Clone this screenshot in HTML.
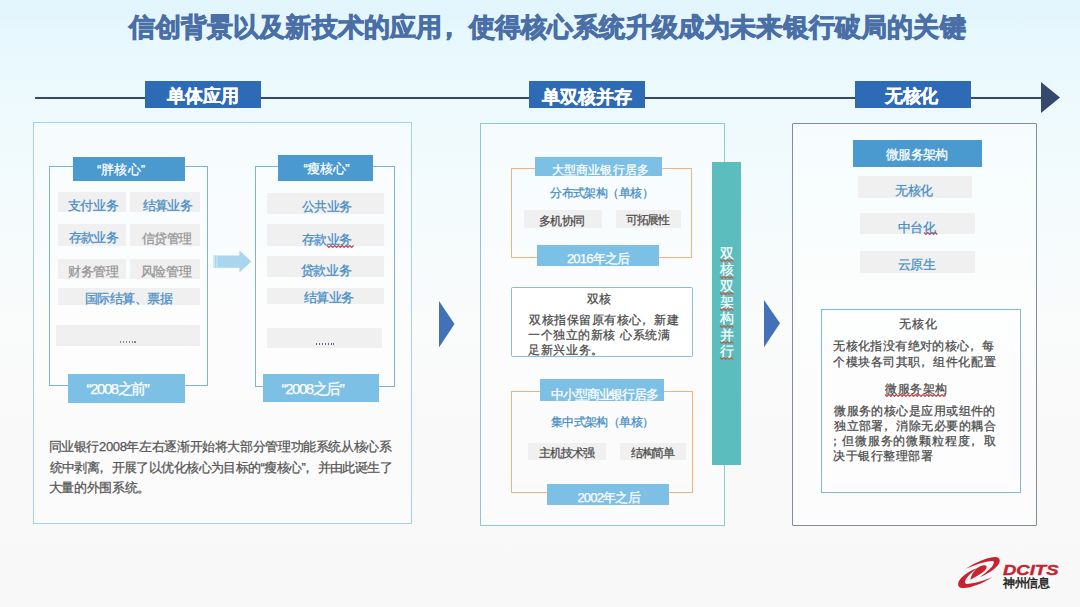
<!DOCTYPE html>
<html><head><meta charset="utf-8">
<style>
*{margin:0;padding:0;box-sizing:border-box}
html,body{width:1080px;height:607px;overflow:hidden}
body{font-family:"Liberation Sans",sans-serif;position:relative;
background:linear-gradient(180deg,#e2f4fc 0px,#e5f7fd 25px,#e9f9fe 60px,#edf9fd 100px,#f0fafd 140px,#f3fbfd 200px,#f7fbfc 260px,#fafbfb 320px,#f9f9f9 420px,#f8f8f8 607px)}
.a{position:absolute}
.t{position:absolute;white-space:nowrap;line-height:1}
.lab{background:#2e6bb7}
.gb{background:#f1f0f0}
.hd{background:#4a99cf}
.lb{background:#7dc0e6}
</style></head><body>

<!-- timeline -->
<div class="a" style="left:35px;top:96.6px;width:1008px;height:2.8px;background:#35496d"></div>
<svg class="a" style="left:1040px;top:81px" width="22" height="34"><polygon points="1,1 20,16.6 1,32" fill="#35496d"/></svg>
<div class="a lab" style="left:145px;top:81px;width:116px;height:26.5px"></div>
<div class="a lab" style="left:529px;top:81px;width:116px;height:26.5px"></div>
<div class="a lab" style="left:854.6px;top:81px;width:116px;height:26.5px"></div>

<!-- panel 1 -->
<div class="a" style="left:32.5px;top:122.4px;width:379px;height:401.4px;border:1.7px solid #a6cfe9;background:rgba(255,255,255,0.4)"></div>
<div class="a" style="left:49px;top:165.8px;width:158.5px;height:220.5px;border:1.4px solid #7fb0d8;background:rgba(255,255,255,0.25)"></div>
<div class="a hd" style="left:72.5px;top:157px;width:112.3px;height:24.2px"></div>
<div class="a gb" style="left:58px;top:192px;width:68px;height:20.3px"></div>
<div class="a gb" style="left:130px;top:192px;width:70px;height:20.3px"></div>
<div class="a gb" style="left:58px;top:223.8px;width:68px;height:22px"></div>
<div class="a gb" style="left:130px;top:223.8px;width:70px;height:22px"></div>
<div class="a gb" style="left:58px;top:258.5px;width:68px;height:20.3px"></div>
<div class="a gb" style="left:130px;top:258.5px;width:70px;height:20.3px"></div>
<div class="a gb" style="left:58px;top:288px;width:142px;height:16.6px"></div>
<div class="a gb" style="left:56.2px;top:325px;width:143.6px;height:20.5px"></div>
<div class="a" style="left:120px;top:341px;width:17px;height:2px;background:repeating-linear-gradient(90deg,#888 0 1.3px,transparent 1.3px 2.9px)"></div>
<div class="a lb" style="left:68px;top:374.1px;width:116.8px;height:28.5px"></div>

<!-- arrow -->
<svg class="a" style="left:213px;top:250px" width="39" height="24">
<polygon points="0,5.6 26.4,5.6 26.4,0.4 38.3,11.5 26.4,22.6 26.4,17.8 0,17.8" fill="#a9d5ee"/>
<rect x="0" y="5.6" width="2" height="12.2" fill="#cde8f6"/><rect x="3.2" y="5.6" width="1.6" height="12.2" fill="#c2e3f4"/></svg>

<div class="a" style="left:254.5px;top:165.8px;width:140.5px;height:220.8px;border:1.4px solid #7fb0d8;background:rgba(255,255,255,0.25)"></div>
<div class="a hd" style="left:278.4px;top:155px;width:94.5px;height:26.2px"></div>
<div class="a gb" style="left:267px;top:192.6px;width:116.5px;height:21.7px"></div>
<div class="a gb" style="left:267px;top:224.2px;width:116.5px;height:21.9px"></div>
<div class="a gb" style="left:267px;top:256.3px;width:116.5px;height:21.2px"></div>
<div class="a gb" style="left:267px;top:288.4px;width:116.5px;height:15.4px"></div>
<div class="a gb" style="left:267.4px;top:327.8px;width:115px;height:20px"></div>
<div class="a" style="left:316px;top:343.3px;width:17.5px;height:2px;background:repeating-linear-gradient(90deg,#5a6a80 0 1.4px,transparent 1.4px 2.9px)"></div>
<div class="a lb" style="left:263px;top:374.1px;width:116.1px;height:28.1px"></div>

<!-- chevrons -->
<svg class="a" style="left:439px;top:301px" width="16" height="47"><polygon points="0,0 15.5,23 0,46.5" fill="#4271ba"/></svg>
<svg class="a" style="left:764px;top:300px" width="17" height="48"><polygon points="0,0 16,23.2 0,47.2" fill="#4271ba"/></svg>

<!-- panel 2 -->
<div class="a" style="left:479.6px;top:123px;width:245.3px;height:403px;border:1.5px solid #90cacc;background:rgba(255,255,255,0.4)"></div>
<div class="a" style="left:510.7px;top:168px;width:181.8px;height:89.6px;border:1.3px solid #f2b27e"></div>
<div class="a lb" style="left:535.1px;top:156.9px;width:126.7px;height:19.6px"></div>
<div class="a gb" style="left:523.8px;top:210.2px;width:78px;height:17.4px"></div>
<div class="a gb" style="left:615.8px;top:210.2px;width:65.5px;height:17.4px"></div>
<div class="a lb" style="left:536.6px;top:244.5px;width:122px;height:21.3px"></div>

<div class="a" style="left:510.5px;top:286.7px;width:182px;height:70.7px;border:1.3px solid #86bde0;border-radius:1.5px;background:#fff"></div>

<div class="a" style="left:511.3px;top:391.1px;width:181.3px;height:102.2px;border:1.3px solid #f2b27e"></div>
<div class="a lb" style="left:540.4px;top:378.8px;width:123.8px;height:21.9px"></div>
<div class="a gb" style="left:527.8px;top:442.7px;width:78.4px;height:17.5px"></div>
<div class="a gb" style="left:620.4px;top:442.7px;width:65.8px;height:17.5px"></div>
<div class="a lb" style="left:547.1px;top:484.1px;width:122px;height:21.3px"></div>

<div class="a" style="left:712px;top:162.4px;width:29.4px;height:302.5px;background:#5cbdbe"></div>

<!-- panel 3 -->
<div class="a" style="left:792.2px;top:123.4px;width:244.6px;height:402.9px;border:1.6px solid #858b9f;border-radius:1px;background:rgba(255,255,255,0.45)"></div>
<div class="a hd" style="left:852.8px;top:140.2px;width:129.4px;height:26.4px"></div>
<div class="a gb" style="left:857.6px;top:176px;width:114.7px;height:22.1px"></div>
<div class="a gb" style="left:860px;top:213.1px;width:114.8px;height:21.2px"></div>
<div class="a gb" style="left:860px;top:250.7px;width:115px;height:22.2px"></div>
<div class="a" style="left:821.1px;top:309.2px;width:199.8px;height:183.5px;border:1.3px solid #80b8dd;background:rgba(255,255,255,0.35)"></div>

<!-- logo -->
<svg class="a" style="left:955px;top:553px" width="48" height="40" viewBox="0 0 728 607">
<g fill="#c8222e">
<path d="M160,240 C300,150 470,68 600,60 C695,55 695,135 650,185 C600,250 500,315 375,368 C455,305 540,240 575,185 C600,140 595,118 550,122 C430,135 300,185 160,240 Z"/>
<path d="M570,365 C420,458 250,535 115,532 C25,528 30,440 100,370 C165,305 260,250 350,222 C270,275 205,335 170,390 C135,445 150,478 215,468 C335,452 455,412 570,365 Z"/>
<path d="M235,405 C245,320 315,230 400,195 C455,175 500,195 472,238 C440,285 390,315 340,345 C292,370 262,392 235,405 Z"/>
</g></svg>
<svg class="a" style="left:1000px;top:560px" width="70" height="32">
<text x="3" y="15" font-family="Liberation Sans" font-weight="bold" font-style="italic" font-size="15.4" fill="#c8222e" stroke="#c8222e" stroke-width="0.4" textLength="55.5" lengthAdjust="spacingAndGlyphs">DCITS</text>
</svg>
<div class="t" style="left:1003px;top:577px;font-size:12px;color:#222;letter-spacing:-0.3px;-webkit-text-stroke:0.45px #222">神州信息</div>
<div class="t" style="left:719.6px;top:246.0px;color:#fff;font-size:14px;-webkit-text-stroke:0.2px #fff">双</div><div class="t" style="left:719.6px;top:262.3px;color:#fff;font-size:14px;-webkit-text-stroke:0.2px #fff">核</div><div class="t" style="left:719.6px;top:278.6px;color:#fff;font-size:14px;-webkit-text-stroke:0.2px #fff">双</div><div class="t" style="left:719.6px;top:294.9px;color:#fff;font-size:14px;-webkit-text-stroke:0.2px #fff">架</div><div class="t" style="left:719.6px;top:311.2px;color:#fff;font-size:14px;-webkit-text-stroke:0.2px #fff">构</div><div class="t" style="left:719.6px;top:327.5px;color:#fff;font-size:14px;-webkit-text-stroke:0.2px #fff">并</div><div class="t" style="left:719.6px;top:343.8px;color:#fff;font-size:14px;-webkit-text-stroke:0.2px #fff">行</div><svg class="a" style="left:719px;top:259.40000000000003px" width="18" height="3"><polyline points="1.0,0.5 2.9,2.5 4.8,0.5 6.7,2.5 8.6,0.5 10.5,2.5 12.4,0.5 14.3,2.5" fill="none" stroke="#c0604a" stroke-width="1.1"/></svg><svg class="a" style="left:719px;top:275.70000000000005px" width="18" height="3"><polyline points="1.0,0.5 2.9,2.5 4.8,0.5 6.7,2.5 8.6,0.5 10.5,2.5 12.4,0.5 14.3,2.5" fill="none" stroke="#c0604a" stroke-width="1.1"/></svg><svg class="a" style="left:719px;top:292.00000000000006px" width="18" height="3"><polyline points="1.0,0.5 2.9,2.5 4.8,0.5 6.7,2.5 8.6,0.5 10.5,2.5 12.4,0.5 14.3,2.5" fill="none" stroke="#c0604a" stroke-width="1.1"/></svg><svg class="a" style="left:719px;top:308.30000000000007px" width="18" height="3"><polyline points="1.0,0.5 2.9,2.5 4.8,0.5 6.7,2.5 8.6,0.5 10.5,2.5 12.4,0.5 14.3,2.5" fill="none" stroke="#c0604a" stroke-width="1.1"/></svg><svg class="a" style="left:719px;top:324.6px" width="18" height="3"><polyline points="1.0,0.5 2.9,2.5 4.8,0.5 6.7,2.5 8.6,0.5 10.5,2.5 12.4,0.5 14.3,2.5" fill="none" stroke="#c0604a" stroke-width="1.1"/></svg><svg class="a" style="left:719px;top:340.90000000000003px" width="18" height="3"><polyline points="1.0,0.5 2.9,2.5 4.8,0.5 6.7,2.5 8.6,0.5 10.5,2.5 12.4,0.5 14.3,2.5" fill="none" stroke="#c0604a" stroke-width="1.1"/></svg><svg class="a" style="left:719px;top:357.20000000000005px" width="18" height="3"><polyline points="1.0,0.5 2.9,2.5 4.8,0.5 6.7,2.5 8.6,0.5 10.5,2.5 12.4,0.5 14.3,2.5" fill="none" stroke="#c0604a" stroke-width="1.1"/></svg><svg class="a" style="left:325.6px;top:244.79999999999998px" width="29.799999999999955" height="3"><polyline points="1.0,0.5 2.9,2.5 4.8,0.5 6.7,2.5 8.6,0.5 10.5,2.5 12.4,0.5 14.3,2.5 16.2,0.5 18.1,2.5 20.0,0.5 21.9,2.5 23.8,0.5 25.7,2.5 27.6,0.5" fill="none" stroke="#cc3f48" stroke-width="1.1"/></svg><svg class="a" style="left:923px;top:232.4px" width="17.399999999999977" height="3"><polyline points="1.0,0.5 2.9,2.5 4.8,0.5 6.7,2.5 8.6,0.5 10.5,2.5 12.4,0.5 14.3,2.5" fill="none" stroke="#cc3f48" stroke-width="1.1"/></svg><svg class="a" style="left:884.3px;top:393.6px" width="64.10000000000002" height="3"><polyline points="1.0,0.5 2.9,2.5 4.8,0.5 6.7,2.5 8.6,0.5 10.5,2.5 12.4,0.5 14.3,2.5 16.2,0.5 18.1,2.5 20.0,0.5 21.9,2.5 23.8,0.5 25.7,2.5 27.6,0.5 29.5,2.5 31.4,0.5 33.3,2.5 35.2,0.5 37.1,2.5 39.0,0.5 40.9,2.5 42.8,0.5 44.7,2.5 46.6,0.5 48.5,2.5 50.4,0.5 52.3,2.5 54.2,0.5 56.1,2.5 58.0,0.5 59.9,2.5 61.8,0.5" fill="none" stroke="#cc3f48" stroke-width="1.1"/></svg><div class="t" style="left:128.5px;top:13.75px;font-size:26px;font-weight:bold;letter-spacing:0.161px;color:#4a6ea6;-webkit-text-stroke:0.9px #4a6ea6;">信创背景以及新技术的应用<span style="position:relative;left:-6px">，</span>使得核心系统升级成为未来银行破局的关键</div>
<div class="t" style="left:167.3px;top:87.35px;font-size:18px;font-weight:bold;letter-spacing:-0.133px;color:#fff;-webkit-text-stroke:0.3px #fff;">单体应用</div>
<div class="t" style="left:542.3px;top:87.55px;font-size:18px;font-weight:bold;letter-spacing:-0.15px;color:#fff;-webkit-text-stroke:0.3px #fff;">单双核并存</div>
<div class="t" style="left:885.4px;top:87.25px;font-size:18px;font-weight:bold;letter-spacing:-0.6px;color:#fff;-webkit-text-stroke:0.3px #fff;">无核化</div>
<div class="t" style="left:96.9px;top:163.0px;font-size:13px;font-weight:normal;letter-spacing:0.125px;color:#fff;-webkit-text-stroke:0.25px #fff;">“胖核心”</div>
<div class="t" style="left:303.6px;top:162.4px;font-size:13px;font-weight:normal;letter-spacing:-0.425px;color:#fff;-webkit-text-stroke:0.25px #fff;">“瘦核心”</div>
<div class="t" style="left:67.8px;top:198.8px;font-size:13px;font-weight:normal;letter-spacing:-0.333px;color:#468dc6;-webkit-text-stroke:0.25px #468dc6;">支付业务</div>
<div class="t" style="left:143.2px;top:199.45px;font-size:13px;font-weight:normal;letter-spacing:-0.867px;color:#468dc6;-webkit-text-stroke:0.25px #468dc6;">结算业务</div>
<div class="t" style="left:68.8px;top:231.2px;font-size:13px;font-weight:normal;letter-spacing:-0.667px;color:#468dc6;-webkit-text-stroke:0.25px #468dc6;">存款业务</div>
<div class="t" style="left:141.5px;top:231.5px;font-size:13px;font-weight:normal;letter-spacing:-0.433px;color:#959595;-webkit-text-stroke:0.25px #959595;">信贷管理</div>
<div class="t" style="left:67.8px;top:264.65px;font-size:13px;font-weight:normal;letter-spacing:-0.267px;color:#959595;-webkit-text-stroke:0.25px #959595;">财务管理</div>
<div class="t" style="left:140.5px;top:264.75px;font-size:13px;font-weight:normal;letter-spacing:-0.1px;color:#959595;-webkit-text-stroke:0.25px #959595;">风险管理</div>
<div class="t" style="left:84.7px;top:291.55px;font-size:13px;font-weight:normal;letter-spacing:-0.45px;color:#468dc6;-webkit-text-stroke:0.25px #468dc6;">国际结算、票据</div>
<div class="t" style="left:301.5px;top:200.4px;font-size:13px;font-weight:normal;letter-spacing:-0.467px;color:#468dc6;-webkit-text-stroke:0.25px #468dc6;">公共业务</div>
<div class="t" style="left:301.5px;top:232.7px;font-size:13px;font-weight:normal;letter-spacing:-0.467px;color:#468dc6;-webkit-text-stroke:0.25px #468dc6;">存款业务</div>
<div class="t" style="left:300.8px;top:263.8px;font-size:13px;font-weight:normal;letter-spacing:-0.333px;color:#468dc6;-webkit-text-stroke:0.25px #468dc6;">贷款业务</div>
<div class="t" style="left:304.0px;top:290.85px;font-size:13px;font-weight:normal;letter-spacing:-0.667px;color:#468dc6;-webkit-text-stroke:0.25px #468dc6;">结算业务</div>
<div class="t" style="left:86.6px;top:381.15px;font-size:15px;font-weight:normal;letter-spacing:-1.457px;color:#fff;-webkit-text-stroke:0.25px #fff;">“2008之前”</div>
<div class="t" style="left:281.6px;top:381.15px;font-size:15px;font-weight:normal;letter-spacing:-1.457px;color:#fff;-webkit-text-stroke:0.25px #fff;">“2008之后”</div>
<div class="t" style="left:48.6px;top:440.0px;font-size:13px;font-weight:normal;letter-spacing:-0.379px;color:#555;-webkit-text-stroke:0.25px #555;">同业银行2008年左右逐渐开始将大部分管理功能系统从核心系</div>
<div class="t" style="left:49.6px;top:460.95px;font-size:13px;font-weight:normal;letter-spacing:-0.593px;color:#555;-webkit-text-stroke:0.25px #555;">统中剥离<span style="position:relative;left:-0.3em">，</span>开展了以优化核心为目标的“瘦核心”<span style="position:relative;left:-0.3em">，</span>并由此诞生了</div>
<div class="t" style="left:48.6px;top:480.55px;font-size:13px;font-weight:normal;letter-spacing:-0.329px;color:#555;-webkit-text-stroke:0.25px #555;">大量的外围系统。</div>
<div class="t" style="left:552.1px;top:163.75px;font-size:12px;font-weight:normal;letter-spacing:0.1px;color:#fff;-webkit-text-stroke:0.25px #fff;">大型商业银行居多</div>
<div class="t" style="left:550.1px;top:186.55px;font-size:12px;font-weight:normal;letter-spacing:-0.538px;color:#468dc6;-webkit-text-stroke:0.25px #468dc6;">分布式架构（单核）</div>
<div class="t" style="left:539.2px;top:214.7px;font-size:12px;font-weight:normal;letter-spacing:-0.7px;color:#4b4b4b;-webkit-text-stroke:0.25px #4b4b4b;">多机协同</div>
<div class="t" style="left:626.0px;top:214.05px;font-size:12px;font-weight:normal;letter-spacing:-1.3px;color:#4b4b4b;-webkit-text-stroke:0.25px #4b4b4b;">可拓展性</div>
<div class="t" style="left:566.9px;top:252.25px;font-size:13px;font-weight:normal;letter-spacing:-0.817px;color:#fff;-webkit-text-stroke:0.25px #fff;">2016年之后</div>
<div class="t" style="left:587.2px;top:292.5px;font-size:12px;font-weight:normal;letter-spacing:-0.6px;color:#4b4b4b;-webkit-text-stroke:0.25px #4b4b4b;">双核</div>
<div class="t" style="left:529.0px;top:314.15px;font-size:12px;font-weight:normal;letter-spacing:0.527px;color:#4b4b4b;-webkit-text-stroke:0.25px #4b4b4b;">双核指保留原有核心<span style="position:relative;left:-0.3em">，</span>新建</div>
<div class="t" style="left:528.0px;top:328.65px;font-size:12px;font-weight:normal;letter-spacing:0.582px;color:#4b4b4b;-webkit-text-stroke:0.25px #4b4b4b;">一个独立的新核 心系统满</div>
<div class="t" style="left:528.0px;top:344.45px;font-size:12px;font-weight:normal;letter-spacing:0.66px;color:#4b4b4b;-webkit-text-stroke:0.25px #4b4b4b;">足新兴业务。</div>
<div class="t" style="left:551.3px;top:387.75px;font-size:13px;font-weight:normal;letter-spacing:-1.188px;color:#fff;-webkit-text-stroke:0.25px #fff;">中小型商业银行居多</div>
<div class="t" style="left:550.7px;top:415.9px;font-size:12px;font-weight:normal;letter-spacing:-0.562px;color:#468dc6;-webkit-text-stroke:0.25px #468dc6;">集中式架构（单核）</div>
<div class="t" style="left:538.5px;top:447.45px;font-size:12px;font-weight:normal;letter-spacing:-1.0px;color:#4b4b4b;-webkit-text-stroke:0.25px #4b4b4b;">主机技术强</div>
<div class="t" style="left:630.8px;top:447.45px;font-size:12px;font-weight:normal;letter-spacing:-1.167px;color:#4b4b4b;-webkit-text-stroke:0.25px #4b4b4b;">结构简单</div>
<div class="t" style="left:577.4px;top:491.4px;font-size:13px;font-weight:normal;letter-spacing:-0.783px;color:#fff;-webkit-text-stroke:0.25px #fff;">2002年之后</div>
<div class="t" style="left:885.8px;top:148.2px;font-size:13px;font-weight:normal;letter-spacing:-0.575px;color:#fff;-webkit-text-stroke:0.25px #fff;">微服务架构</div>
<div class="t" style="left:895.4px;top:184.15px;font-size:13px;font-weight:normal;letter-spacing:-0.45px;color:#468dc6;-webkit-text-stroke:0.25px #468dc6;">无核化</div>
<div class="t" style="left:897.9px;top:220.85px;font-size:13px;font-weight:normal;letter-spacing:-0.5px;color:#468dc6;-webkit-text-stroke:0.25px #468dc6;">中台化</div>
<div class="t" style="left:897.9px;top:258.4px;font-size:13px;font-weight:normal;letter-spacing:-0.5px;color:#468dc6;-webkit-text-stroke:0.25px #468dc6;">云原生</div>
<div class="t" style="left:899.2px;top:318.3px;font-size:12px;font-weight:normal;letter-spacing:0.85px;color:#4b4b4b;-webkit-text-stroke:0.25px #4b4b4b;">无核化</div>
<div class="t" style="left:833.1px;top:340.05px;font-size:12px;font-weight:normal;letter-spacing:0.408px;color:#4b4b4b;-webkit-text-stroke:0.25px #4b4b4b;">无核化指没有绝对的核心<span style="position:relative;left:-0.3em">，</span>每</div>
<div class="t" style="left:833.1px;top:356.1px;font-size:12px;font-weight:normal;letter-spacing:0.533px;color:#4b4b4b;-webkit-text-stroke:0.25px #4b4b4b;">个模块各司其职<span style="position:relative;left:-0.3em">，</span>组件化配置</div>
<div class="t" style="left:885.3px;top:382.75px;font-size:12px;font-weight:normal;letter-spacing:0.525px;color:#4b4b4b;-webkit-text-stroke:0.25px #4b4b4b;">微服务架构</div>
<div class="t" style="left:834.1px;top:404.75px;font-size:12px;font-weight:normal;letter-spacing:0.45px;color:#4b4b4b;-webkit-text-stroke:0.25px #4b4b4b;">微服务的核心是应用或组件的</div>
<div class="t" style="left:834.1px;top:420.0px;font-size:12px;font-weight:normal;letter-spacing:0.45px;color:#4b4b4b;-webkit-text-stroke:0.25px #4b4b4b;">独立部署<span style="position:relative;left:-0.3em">，</span>消除无必要的耦合</div>
<div class="t" style="left:829.1px;top:435.45px;font-size:12px;font-weight:normal;letter-spacing:0.867px;color:#4b4b4b;-webkit-text-stroke:0.25px #4b4b4b;">；但微服务的微颗粒程度<span style="position:relative;left:-0.3em">，</span>取</div>
<div class="t" style="left:833.1px;top:449.9px;font-size:12px;font-weight:normal;letter-spacing:0.557px;color:#4b4b4b;-webkit-text-stroke:0.25px #4b4b4b;">决于银行整理部署</div>
</body></html>
